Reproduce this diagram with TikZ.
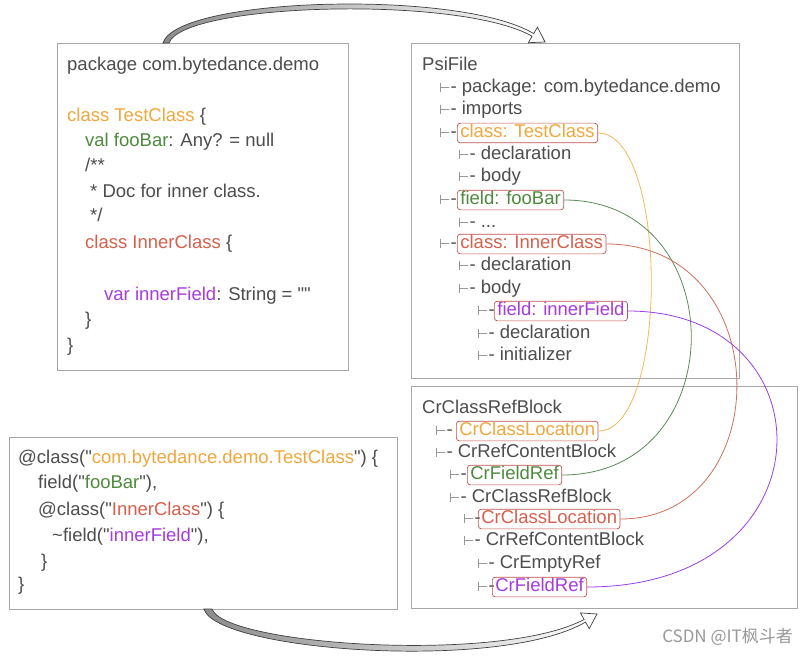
\documentclass[tikz,border=0pt]{standalone}
\usepackage{fontspec}
\setmainfont{Liberation Sans}[Ligatures=TeXOff]
\newfontfamily\symf{DejaVu Sans}
\newfontfamily\cjkf{Noto Sans CJK SC}
\usetikzlibrary{arrows.meta}
\definecolor{txtgray}{HTML}{4D4D4D}
\definecolor{teegray}{HTML}{808080}
\definecolor{framegray}{HTML}{A8A8A8}
\definecolor{korange}{HTML}{F0A73E}
\definecolor{kgreen}{HTML}{4E8A3E}
\definecolor{kred}{HTML}{D6604D}
\definecolor{kpurple}{HTML}{A53BE0}
\definecolor{boxred}{HTML}{C0504D}
\definecolor{lorange}{HTML}{F5B85A}
\definecolor{lgreen}{HTML}{5B8C5A}
\definecolor{lred}{HTML}{D0705A}
\definecolor{lpurple}{HTML}{9B3FE8}
\newcommand{\treetee}{{\symf\fontsize{13}{13}\selectfont\textcolor{teegray}{⊢}}-}
\tikzset{
  txt/.style={anchor=west, inner sep=0pt, text height=13.3pt, text depth=3.4pt,
    text=txtgray, font=\fontsize{18.5}{22}\selectfont},
  hl/.style={txt, draw=boxred, rounded corners=3pt, inner xsep=3pt, inner ysep=1.5pt, line width=0.7pt},
  frame/.style={draw=framegray, line width=0.8pt, anchor=north west, inner sep=0pt},
  link/.style={line width=0.8pt},
  bigarrow/.style={draw=black!75, line width=0.7pt, line join=miter},
}
\begin{document}
\begin{tikzpicture}[x=1pt,y=-1pt]
\useasboundingbox[fill=white] (0,0) rectangle (810,655);

% frames
\node[frame, minimum width=291pt, minimum height=327pt] (fcode) at (57,43) {};
\node[frame, minimum width=328pt, minimum height=335pt] (fpsi) at (411,43) {};
\node[frame, minimum width=386pt, minimum height=222pt] (fcr) at (411,386) {};
\node[frame, minimum width=388pt, minimum height=172pt] (fdsl) at (9,437) {};

% source code
\node[txt] (c1) at (67,66) {package com.bytedance.demo};
\node[txt] (c2) at (67,117) {\textcolor{korange}{class TestClass} \{};
\node[txt] (c3) at (85,142) {\textcolor{kgreen}{val fooBar}: Any? = null};
\node[txt] (c4) at (85,167) {/**};
\node[txt] (c5) at (90,193) {* Doc for inner class.};
\node[txt] (c6) at (90,217) {*/};
\node[txt] (c7) at (85,244) {\textcolor{kred}{class InnerClass} \{};
\node[txt] (c8) at (104,296) {\textcolor{kpurple}{var innerField}: String = ""};
\node[txt] (c9) at (85,321) {\}};
\node[txt] (c10) at (67,347) {\}};

% PSI tree
\node[txt] (p0) at (422,66) {PsiFile};
\node[txt] (p1) at (439,88) {\treetee\ package: com.bytedance.demo};
\node[txt] (p2) at (439,110) {\treetee\ imports};
\node[txt] (p3t) at (439,133) {\treetee};
\node[hl, text=korange] (p3) at (457,133) {class: TestClass};
\node[txt] (p4) at (458,155) {\treetee\ declaration};
\node[txt] (p5) at (458,177) {\treetee\ body};
\node[txt] (p6t) at (439,200) {\treetee};
\node[hl, text=kgreen] (p6) at (457,200) {field: fooBar};
\node[txt] (p7) at (458,223) {\treetee\ ...};
\node[txt] (p8t) at (439,244) {\treetee};
\node[hl, text=kred] (p8) at (457,244) {class: InnerClass};
\node[txt] (p9) at (458,266) {\treetee\ declaration};
\node[txt] (p10) at (458,289) {\treetee\ body};
\node[txt] (p11t) at (477,311) {\treetee};
\node[hl, text=kpurple] (p11) at (494,311) {field: innerField};
\node[txt] (p12) at (477,334) {\treetee\ declaration};
\node[txt] (p13) at (477,356) {\treetee\ initializer};

% Cr tree
\node[txt] (r0) at (422,409) {CrClassRefBlock};
\node[txt] (r1t) at (435,431) {\treetee};
\node[hl, text=korange] (r1) at (456,431) {CrClassLocation};
\node[txt] (r2) at (435,453) {\treetee\ CrRefContentBlock};
\node[txt] (r3t) at (449,475) {\treetee};
\node[hl, text=kgreen] (r3) at (467,475) {CrFieldRef};
\node[txt] (r4) at (449,498) {\treetee\ CrClassRefBlock};
\node[txt] (r5t) at (463,519) {\treetee};
\node[hl, text=kred] (r5) at (478,519) {CrClassLocation};
\node[txt] (r6) at (463,541) {\treetee\ CrRefContentBlock};
\node[txt] (r7) at (477,564) {\treetee\ CrEmptyRef};
\node[txt] (r8t) at (477,587) {\treetee};
\node[hl, text=kpurple] (r8) at (492,587) {CrFieldRef};

% DSL
\node[txt] (d1) at (18,459) {@class("\textcolor{korange}{com.bytedance.demo.TestClass}") \{};
\node[txt] (d2) at (38,484) {field("\textcolor{kgreen}{fooBar}"),};
\node[txt] (d3) at (38,511) {@class("\textcolor{kred}{InnerClass}") \{};
\node[txt] (d4) at (52,537) {\textasciitilde field("\textcolor{kpurple}{innerField}"),};
\node[txt] (d5) at (41,563) {\}};
\node[txt] (d6) at (18,586) {\}};

% links
\draw[link, lorange] (p3.east) .. controls (669,133) and (669,431) .. (r1.east);
\draw[link, lgreen] (p6.east) .. controls (734,200) and (734,475) .. (r3.east);
\draw[link, lred] (p8.east) .. controls (778,244) and (778,519) .. (r5.east);
\draw[link, lpurple] (p11.east) .. controls (833,311) and (833,587) .. (r8.east);

% big curved block arrows (tapered body, hollow head)
\coordinate (a1s) at (166,43);
\coordinate (a1e) at (545,42);
\shade[left color=black!45, right color=white, bigarrow]
  (163,43) .. controls (177,-3) and (460,-11) .. (533.7,33.6)
  -- (537.5,27.1) -- (a1e) -- (528.3,42.7) -- (532.1,36.2)
  .. controls (459,-5) and (183,3) .. (169,43) -- cycle;
\coordinate (a2s) at (208,609);
\coordinate (a2e) at (597,614);
\shade[left color=black!45, right color=white, bigarrow]
  (204,609) .. controls (216,651) and (500,672) .. (585.5,622.1)
  -- (589.2,628.7) -- (a2e) -- (580.4,612.9) -- (584.1,619.5)
  .. controls (500,664) and (224,645) .. (212,609) -- cycle;

% watermark
\node[anchor=east, inner sep=0pt, text=black!40, font=\cjkf\fontsize{17}{20}\selectfont] (wm) at (793,637) {CSDN @IT枫斗者};
\end{tikzpicture}
\end{document}
